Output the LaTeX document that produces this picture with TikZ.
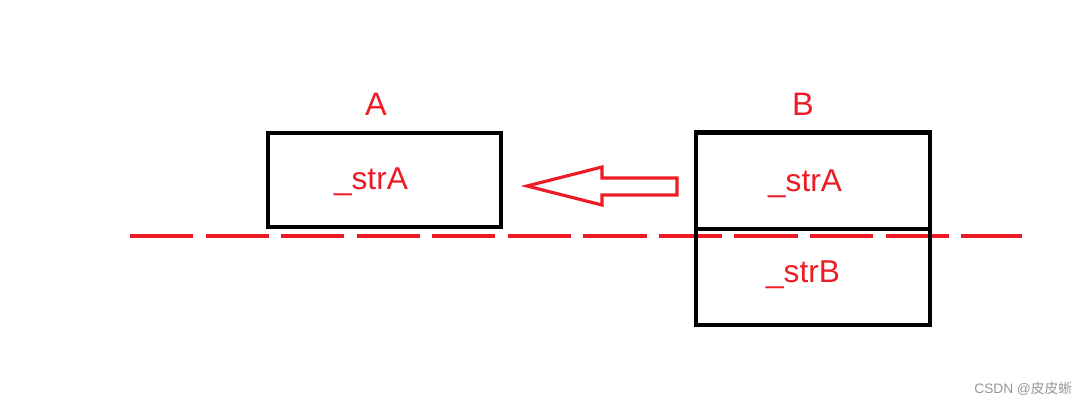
\documentclass[tikz,border=0pt]{standalone}
\usepackage{fontspec}
\setmainfont{Liberation Sans}
\newfontfamily\cjk{Noto Sans CJK SC}
\usepackage{xcolor}
\usetikzlibrary{positioning,calc}
\definecolor{paintred}{RGB}{237,28,36}
\definecolor{markgrey}{RGB}{150,150,150}

\begin{document}
\begin{tikzpicture}[
x=0.02cm,
y=-0.02cm,
every node/.style={inner sep=0pt,outer sep=0pt},
objbox/.style={rectangle,draw=black,line width=2.4pt,minimum width=4.66cm},
title/.style={text=paintred,font=\fontsize{18.5}{20}\selectfont},
member/.style={text=paintred,font=\fontsize{18}{20}\selectfont},
cutline/.style={draw=paintred,line width=2.3pt,dash pattern=on 36pt off 7pt},
blockarr/.style={draw=paintred,line width=1.8pt,line join=miter},
wmark/.style={text=markgrey,font=\fontsize{7.8}{8}\selectfont}
]
\useasboundingbox (0,0) rectangle (1087,407);

\draw[cutline] (130,236) -- (1022,236);

\node[objbox,minimum height=1.88cm] (boxa) at (384.5,180) {};
\node[objbox,minimum width=4.68cm,minimum height=1.93cm] (boxbtop) at (813,180.75) {};
\node[objbox,minimum width=4.68cm,minimum height=1.92cm] (boxbbot) at (813,277) {};

\node[title] (namea) at (376,104) {A};
\node[title] (nameb) at (803,104) {B};

\node[member] (stra) at (371,182) {\_strA};
\node[member] (strbtop) at (805,184) {\_strA};
\node[member] (strb) at (803,275) {\_strB};

\draw[blockarr] (527,186) -- (602,167) -- (602,178) -- (677,178) -- (677,195) -- (602,195) -- (602,205) -- cycle;

\node[wmark,anchor=east] (mark) at (1072,389) {CSDN @{\cjk 皮皮蜥}};
\end{tikzpicture}
\end{document}
